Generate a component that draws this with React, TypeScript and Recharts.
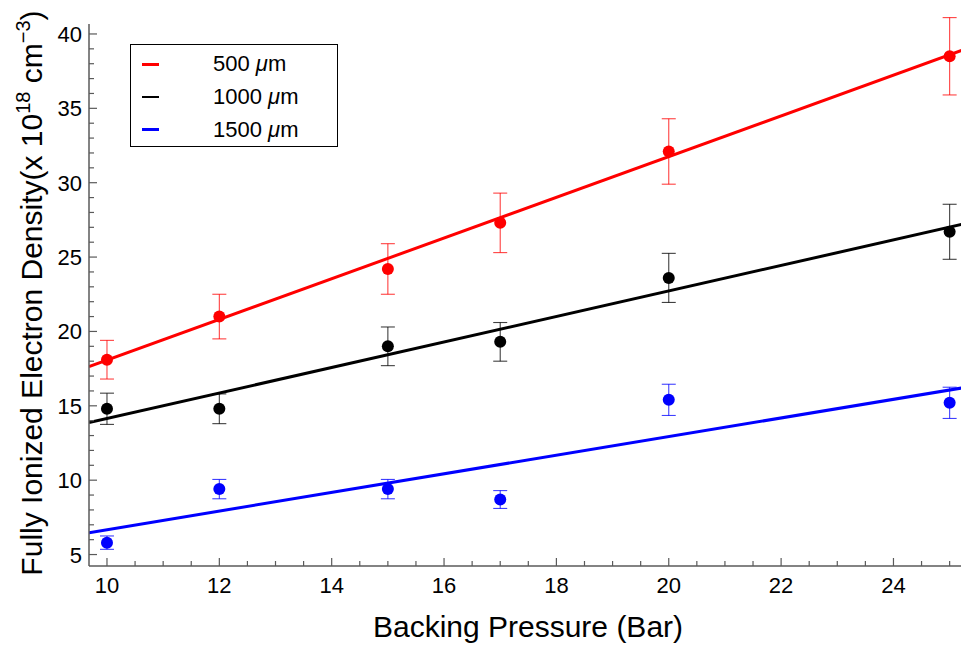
import React from "react";
import { ComposedChart, Line, Scatter, ErrorBar, XAxis, YAxis, Legend } from "recharts";

// backing pressure (bar) at which each target was measured
const pressure = [10, 12, 15, 17, 20, 25];

// electron density (x 10^18 cm^-3) and its error, per nozzle size
const density500 = [18.1, 21.0, 24.2, 27.3, 32.1, 38.5];
const error500 = [1.3, 1.5, 1.7, 2.0, 2.2, 2.6];
const density1000 = [14.8, 14.8, 19.0, 19.3, 23.6, 26.7];
const error1000 = [1.05, 1.0, 1.3, 1.3, 1.65, 1.85];
const density1500 = [5.8, 9.4, 9.4, 8.7, 15.4, 15.2];
const error1500 = [0.45, 0.65, 0.65, 0.6, 1.05, 1.05];

// linear fits, read at the two edges of the frame
const fitPressure = [9.68, 25.22];
const fit500 = [17.63, 38.9];
const fit1000 = [13.87, 27.2];
const fit1500 = [6.47, 16.2];

const xTicks = [
  10, 10.5, 11, 11.5, 12, 12.5, 13, 13.5, 14, 14.5, 15, 15.5, 16, 16.5, 17, 17.5,
  18, 18.5, 19, 19.5, 20, 20.5, 21, 21.5, 22, 22.5, 23, 23.5, 24, 24.5, 25,
];
const yTicks = [
  5, 6, 7, 8, 9, 10, 11, 12, 13, 14, 15, 16, 17, 18, 19, 20, 21, 22, 23, 24, 25,
  26, 27, 28, 29, 30, 31, 32, 33, 34, 35, 36, 37, 38, 39, 40,
];
const xDomain = [9.68, 25.22];
const yDomain = [4.23, 40.67];

const FRAME = "#5a5a5a";
const FONT = "'Liberation Sans', Arial, sans-serif";

const series = [
  { name: "500", color: "#ff0000", values: density500, errors: error500, fit: fit500 },
  { name: "1000", color: "#000000", values: density1000, errors: error1000, fit: fit1000 },
  { name: "1500", color: "#0000ff", values: density1500, errors: error1500, fit: fit1500 },
];

const points = (values: number[], errors: number[]) =>
  pressure.map((x, i) => ({ x, y: values[i], err: errors[i] }));
const fitLine = (fit: number[]) => fitPressure.map((x, i) => ({ x, y: fit[i] }));

const BottomTick = (props: any) => {
  const { x, y, payload } = props;
  const major = payload.value % 2 === 0;
  return (
    <g>
      <line x1={x} x2={x} y1={y} y2={y - (major ? 8 : 5)} stroke={FRAME} strokeWidth={1.2} />
      {major && (
        <text x={x} y={y + 27} textAnchor="middle" fontSize={22} fill="#000" fontFamily={FONT}>
          {payload.value}
        </text>
      )}
    </g>
  );
};

const TopTick = (props: any) => {
  const { x, y, payload } = props;
  const major = payload.value % 2 === 0;
  return <line x1={x} x2={x} y1={y} y2={y + (major ? 8 : 5)} stroke={FRAME} strokeWidth={1.2} />;
};

const LeftTick = (props: any) => {
  const { x, y, payload } = props;
  const major = payload.value % 5 === 0;
  return (
    <g>
      <line x1={x} x2={x + (major ? 8 : 5)} y1={y} y2={y} stroke={FRAME} strokeWidth={1.2} />
      {major && (
        <text x={x - 7} y={y + 8} textAnchor="end" fontSize={22} fill="#000" fontFamily={FONT}>
          {payload.value}
        </text>
      )}
    </g>
  );
};

const RightTick = (props: any) => {
  const { x, y, payload } = props;
  const major = payload.value % 5 === 0;
  return <line x1={x} x2={x - (major ? 8 : 5)} y1={y} y2={y} stroke={FRAME} strokeWidth={1.2} />;
};

const XTitle = () => (
  <text x={528} y={637} textAnchor="middle" fontSize={30} fill="#000" fontFamily={FONT}>
    Backing Pressure (Bar)
  </text>
);

const YTitle = () => (
  <text
    x={0}
    y={0}
    transform="translate(42, 293) rotate(-90)"
    textAnchor="middle"
    fontSize={30}
    fill="#000"
    fontFamily={FONT}
  >
    Fully Ionized Electron Density(x 10
    <tspan dy={-12} fontSize={20}>18</tspan>
    <tspan dy={12}> cm</tspan>
    <tspan dy={-12} fontSize={20}>−3</tspan>
    <tspan dy={12}>)</tspan>
  </text>
);

const LegendBox = () => (
  <div
    style={{
      width: 208,
      height: 103,
      border: "1px solid #000",
      background: "#fff",
      fontFamily: FONT,
      fontSize: 22,
      boxSizing: "border-box",
      paddingTop: 3,
    }}
  >
    {series.map((s) => (
      <div key={s.name} style={{ display: "flex", alignItems: "center", height: 32.7 }}>
        <div style={{ width: 17, height: 2.5, background: s.color, marginLeft: 11 }} />
        <span style={{ marginLeft: 54, color: "#000" }}>
          {s.name} <i>μ</i>m
        </span>
      </div>
    ))}
  </div>
);

export default function App() {
  return (
    <div style={{ position: "absolute", left: 0, top: 0, width: 961, height: 646, overflow: "hidden", background: "#fff" }}>
      <ComposedChart
        width={964}
        height={646}
        margin={{ top: 24, right: 2, left: 0, bottom: 0 }}
        style={{ fontFamily: FONT }}
      >
        <XAxis
          dataKey="x"
          type="number"
          domain={xDomain}
          ticks={xTicks}
          interval={0}
          allowDataOverflow
          height={80}
          tickSize={0}
          tickMargin={0}
          tickLine={false}
          tick={<BottomTick />}
          axisLine={{ stroke: FRAME, strokeWidth: 1.5 }}
          label={<XTitle />}
        />
        <XAxis
          xAxisId="top"
          orientation="top"
          type="number"
          domain={xDomain}
          ticks={xTicks}
          interval={0}
          allowDataOverflow
          height={0}
          tickSize={0}
          tickMargin={0}
          tickLine={false}
          tick={<TopTick />}
          axisLine={{ stroke: FRAME, strokeWidth: 1.5 }}
        />
        <YAxis
          dataKey="y"
          type="number"
          domain={yDomain}
          ticks={yTicks}
          interval={0}
          allowDataOverflow
          width={89}
          tickSize={0}
          tickMargin={0}
          tickLine={false}
          tick={<LeftTick />}
          axisLine={{ stroke: FRAME, strokeWidth: 1.5 }}
          label={<YTitle />}
        />
        <YAxis
          yAxisId="right"
          orientation="right"
          type="number"
          domain={yDomain}
          ticks={yTicks}
          interval={0}
          allowDataOverflow
          width={0}
          tickSize={0}
          tickMargin={0}
          tickLine={false}
          tick={<RightTick />}
          axisLine={{ stroke: FRAME, strokeWidth: 1.5 }}
        />
        <Legend
          layout="horizontal"
          verticalAlign="middle"
          align="center"
          content={<LegendBox />}
          wrapperStyle={{ left: 130, top: 44, width: 208, height: 103 }}
        />
        {series.map((s) => (
          <Line
            key={"fit" + s.name}
            data={fitLine(s.fit)}
            dataKey="y"
            type="linear"
            stroke={s.color}
            strokeWidth={3}
            dot={false}
            activeDot={false}
            legendType="none"
            isAnimationActive={false}
          />
        ))}
        {series.map((s) => (
          <Scatter
            key={"pts" + s.name}
            name={s.name + " μm"}
            data={points(s.values, s.errors)}
            fill={s.color}
            isAnimationActive={false}
            shape={(p: any) => <circle cx={p.cx} cy={p.cy} r={6} fill={s.color} />}
          >
            <ErrorBar
              dataKey="err"
              direction="y"
              width={7}
              stroke={s.color}
              strokeOpacity={0.75}
              strokeWidth={1.1}
              isAnimationActive={false}
            />
          </Scatter>
        ))}
      </ComposedChart>
    </div>
  );
}
